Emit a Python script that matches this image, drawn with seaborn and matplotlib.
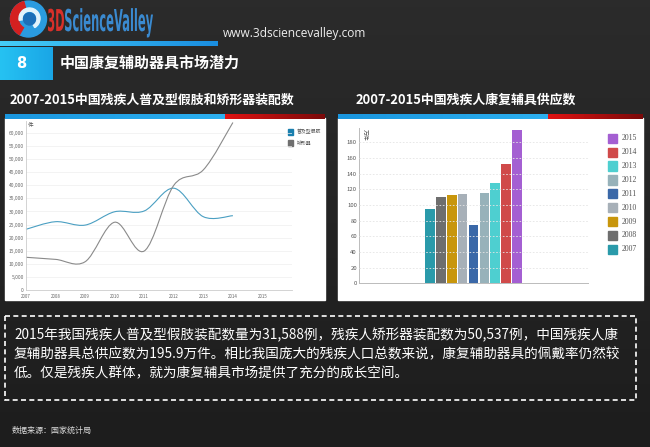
import numpy as np
import pandas as pd
import matplotlib
matplotlib.use("Agg")
import matplotlib.pyplot as plt
import seaborn as sns
from matplotlib.path import Path
from matplotlib.patches import PathPatch, Rectangle, Circle, Wedge
from matplotlib.textpath import TextPath
from matplotlib.font_manager import FontProperties
from matplotlib.transforms import Affine2D

# ---------------- data ----------------
line_years = [2007, 2008, 2009, 2010, 2011, 2012, 2013, 2014]
prosthesis = [23200, 26100, 24800, 29900, 30200, 38900, 28000, 28400]
orthosis = [12500, 11700, 10800, 25900, 14900, 40000, 45900, 64000]
line_labels = ["普及型假肢", "矫形器"]
line_colors = ["#4a9fc2", "#8a8a8a"]
legend_left_colors = ["#1a7fae", "#6f6f6f"]
x_ticks_left = [2007, 2008, 2009, 2010, 2011, 2012, 2013, 2014, 2015]
y_ticks_left = [0, 5000, 10000, 15000, 20000, 25000, 30000, 35000, 40000, 45000, 50000, 55000, 60000]

supply_years = ["2007", "2008", "2009", "2010", "2011", "2012", "2013", "2014", "2015"]
supply_values = [95, 110, 112.5, 114, 74, 115, 128.5, 152.7, 195.9]
supply_colors = ["#2a9aaa", "#6e6e6e", "#c8960c", "#a7b0b8", "#3a68a8",
                 "#97b2ba", "#4ecfd0", "#d04a4a", "#a45fd2"]
y_ticks_right = [0, 20, 40, 60, 80, 100, 120, 140, 160, 180]

header_title = "中国康复辅助器具市场潜力"
left_title = "2007-2015中国残疾人普及型假肢和矫形器装配数"
right_title = "2007-2015中国残疾人康复辅具供应数"
body_lines = [
    "2015年我国残疾人普及型假肢装配数量为31,588例，残疾人矫形器装配数为50,537例，中国残疾人康",
    "复辅助器具总供应数为195.9万件。相比我国庞大的残疾人口总数来说，康复辅助器具的佩戴率仍然较",
    "低。仅是残疾人群体，就为康复辅具市场提供了充分的成长空间。",
]
source_text = "数据来源：国家统计局"

# ---------------- setup ----------------
sns.set_theme(style="white")
plt.rcParams["font.family"] = ["Noto Sans CJK SC", "DejaVu Sans"]

W, H = 650, 447
fig = plt.figure(figsize=(6.5, 4.47), dpi=100, facecolor="#232323")


def rect(x0, y0, x1, y1):
    return [x0 / W, 1 - y1 / H, (x1 - x0) / W, (y1 - y0) / H]


bg = fig.add_axes([0, 0, 1, 1])
bg.set_zorder(0)
bg.axis("off")


def hgrad(x0, x1, y0, y1, c0, c1, z=1):
    c0 = np.array(matplotlib.colors.to_rgb(c0))
    c1 = np.array(matplotlib.colors.to_rgb(c1))
    t = np.linspace(0, 1, 64)[None, :, None]
    arr = c0 + (c1 - c0) * t
    bg.imshow(arr, extent=(x0, x1, y1, y0), aspect="auto", zorder=z, interpolation="bilinear")


# background vertical gradient
c_top = np.array(matplotlib.colors.to_rgb("#2b2b2b"))
c_bot = np.array(matplotlib.colors.to_rgb("#1d1d1d"))
tt = np.linspace(0, 1, 64)[:, None, None]
bg.imshow(c_top + (c_bot - c_top) * tt, extent=(0, W, H, 0), aspect="auto", zorder=0)

# header line and number box
hgrad(0, 218, 42, 46.5, "#45cdf7", "#1a8ee0", z=2)
hgrad(0, 53, 47, 80, "#26c2f2", "#1aa6e6", z=2)
bg.text(21, 63.5, "8", color="white", fontsize=10.5, fontweight="bold", ha="center", va="center",
        family="DejaVu Sans", zorder=3)
bg.text(60, 62.5, header_title, color="white", fontsize=10.8, fontweight="bold", va="center", zorder=3)
bg.text(223, 33, "www.3dsciencevalley.com", color="#eeeeee", fontsize=8.6, va="center",
        family="Open Sans", zorder=3)

# logo
lc = (28.5, 19)
bg.add_patch(Circle(lc, 18, color="#2a9be0", zorder=3))
bg.add_patch(Wedge(lc, 18, 120, 255, width=8, color="#d42020", zorder=4))
bg.add_patch(Wedge((29.5, 18.5), 10.5, 170, 420, width=3.2, color="#e2f4fc", zorder=4))
bg.add_patch(Circle((29.5, 19), 6, color="#1c6fb8", zorder=4))


def draw_word(s, x0, x1, ybase, cap_px, color):
    fp = FontProperties(family="DejaVu Sans", weight="bold")
    tp = TextPath((0, 0), s, size=1, prop=fp)
    bb = tp.get_extents()
    sx = (x1 - x0) / bb.width
    sy = cap_px / 0.73
    tr = Affine2D().translate(-bb.x0, 0).scale(sx, -sy).translate(x0, ybase) + bg.transData
    bg.add_patch(PathPatch(tp, facecolor=color, edgecolor="none", transform=tr, zorder=4))


draw_word("3D", 48, 64, 31, 22, "#d8302a")
draw_word("ScienceValley", 65, 153, 31, 22, "#3a8ad0")

# section titles
bg.text(10, 100, left_title, color="white", fontsize=9.3, fontweight="bold", va="center", zorder=3)
bg.text(356, 100, right_title, color="white", fontsize=9.3, fontweight="bold", va="center", zorder=3)

# panels
bg.add_patch(Rectangle((5, 118), 320, 182, color="white", zorder=2))
bg.add_patch(Rectangle((338, 118), 305, 182, color="white", zorder=2))
hgrad(5, 225, 114.5, 119, "#1a96de", "#2cb0f0", z=3)
hgrad(225, 325, 114.5, 119, "#e01212", "#7a0a0a", z=3)
hgrad(338, 548, 114.5, 119, "#1a96de", "#2cb0f0", z=3)
hgrad(548, 643, 114.5, 119, "#e01212", "#7a0a0a", z=3)

# text box
bg.add_patch(Rectangle((5, 316), 631, 84, fill=False, edgecolor="white", lw=1.2,
                       ls=(0, (3, 2)), zorder=3))
for i, ln in enumerate(body_lines):
    bg.text(14, 335 + i * 19.3, ln, color="white", fontsize=9.8, va="center", zorder=3)
bg.text(12, 430, source_text, color="#dddddd", fontsize=5.8, va="center", zorder=3)

# left legend
for i, (lab, c) in enumerate(zip(line_labels, legend_left_colors)):
    yc = 132 + i * 11
    bg.add_patch(Rectangle((288, yc - 2.6), 5.2, 5.2, color=c, zorder=4))
    bg.text(296.5, yc, lab, fontsize=3.5, color="#555555", va="center", zorder=4)
bg.text(28, 125, "件", fontsize=4, color="#555555", va="center", zorder=4)

# right legend
for i, (yr, c) in enumerate(zip(supply_years[::-1], supply_colors[::-1])):
    yc = 138.3 + i * 13.875
    bg.add_patch(Rectangle((608, yc - 4.6), 9.2, 9.2, color=c, zorder=4))
    bg.text(621.5, yc, yr, fontsize=5.6, color="#555555", va="center", family="Liberation Serif", zorder=4)
bg.text(364, 135, "万件", fontsize=4.2, color="#555555", va="center", ha="center", rotation=-90, zorder=4)

bg.set_xlim(0, W)
bg.set_ylim(H, 0)

# ---------------- left line chart ----------------
axL = fig.add_axes(rect(26, 121.2, 292, 290))
axL.set_zorder(5)
axL.patch.set_alpha(0)
axL.set_xlim(2007, 2016)
axL.set_ylim(0, 64500)


def smooth_path(xs, ys, k=6.0):
    pts = np.column_stack([xs, ys]).astype(float)
    n = len(pts)
    verts = [pts[0]]
    codes = [Path.MOVETO]
    for i in range(n - 1):
        p0 = pts[max(i - 1, 0)]
        p1 = pts[i]
        p2 = pts[i + 1]
        p3 = pts[min(i + 2, n - 1)]
        c1 = p1 + (p2 - p0) / k
        c2 = p2 - (p3 - p1) / k
        verts += [c1, c2, p2]
        codes += [Path.CURVE4] * 3
    return Path(verts, codes)


for ys, c in zip([prosthesis, orthosis], line_colors):
    axL.add_patch(PathPatch(smooth_path(line_years, ys), facecolor="none", edgecolor=c, lw=0.8,
                            transform=axL.transData, clip_on=False))

axL.set_yticks(y_ticks_left)
axL.set_yticklabels([f"{v:,}" for v in y_ticks_left], fontsize=3.5, color="#666666")
axL.set_xticks(x_ticks_left)
axL.set_xticklabels([str(v) for v in x_ticks_left], fontsize=3.2, color="#666666")
axL.tick_params(axis="y", length=0, pad=1.5)
axL.tick_params(axis="x", length=2, width=0.5, color="#cccccc", pad=1, direction="out")
axL.grid(axis="y", color="#eeeeee", lw=0.5)
axL.set_axisbelow(True)
for s in ["top", "right"]:
    axL.spines[s].set_visible(False)
for s in ["left", "bottom"]:
    axL.spines[s].set_color("#cccccc")
    axL.spines[s].set_linewidth(0.6)

# ---------------- right bar chart ----------------
axR = fig.add_axes(rect(359, 128.2, 588, 283.3))
axR.set_zorder(5)
axR.patch.set_alpha(0)
df = pd.DataFrame({"g": [""] * len(supply_years), "year": supply_years, "value": supply_values})
sns.barplot(data=df, x="g", y="value", hue="year", palette=supply_colors, width=0.43, gap=0.1,
            saturation=1, linewidth=0, legend=False, ax=axR)
axR.set_xlim(-0.5, 0.5)
axR.set_ylim(0, 198)
axR.set_xlabel("")
axR.set_ylabel("")
axR.set_yticks(y_ticks_right)
axR.set_yticklabels([str(v) for v in y_ticks_right], fontsize=4.3, color="#555555")
axR.set_xticks([0])
axR.set_xticklabels([""])
axR.tick_params(axis="y", length=0, pad=1.5)
axR.tick_params(axis="x", length=3, width=0.8, color="#3060a0", direction="out")
axR.grid(axis="y", color="#e4e4e4", lw=0.6, ls=(0, (2, 2)))
axR.set_axisbelow(False)
for s in ["top", "right"]:
    axR.spines[s].set_visible(False)
for s in ["left", "bottom"]:
    axR.spines[s].set_color("#bbbbbb")
    axR.spines[s].set_linewidth(0.7)

fig.savefig("out.png", dpi=100, facecolor=fig.get_facecolor())
